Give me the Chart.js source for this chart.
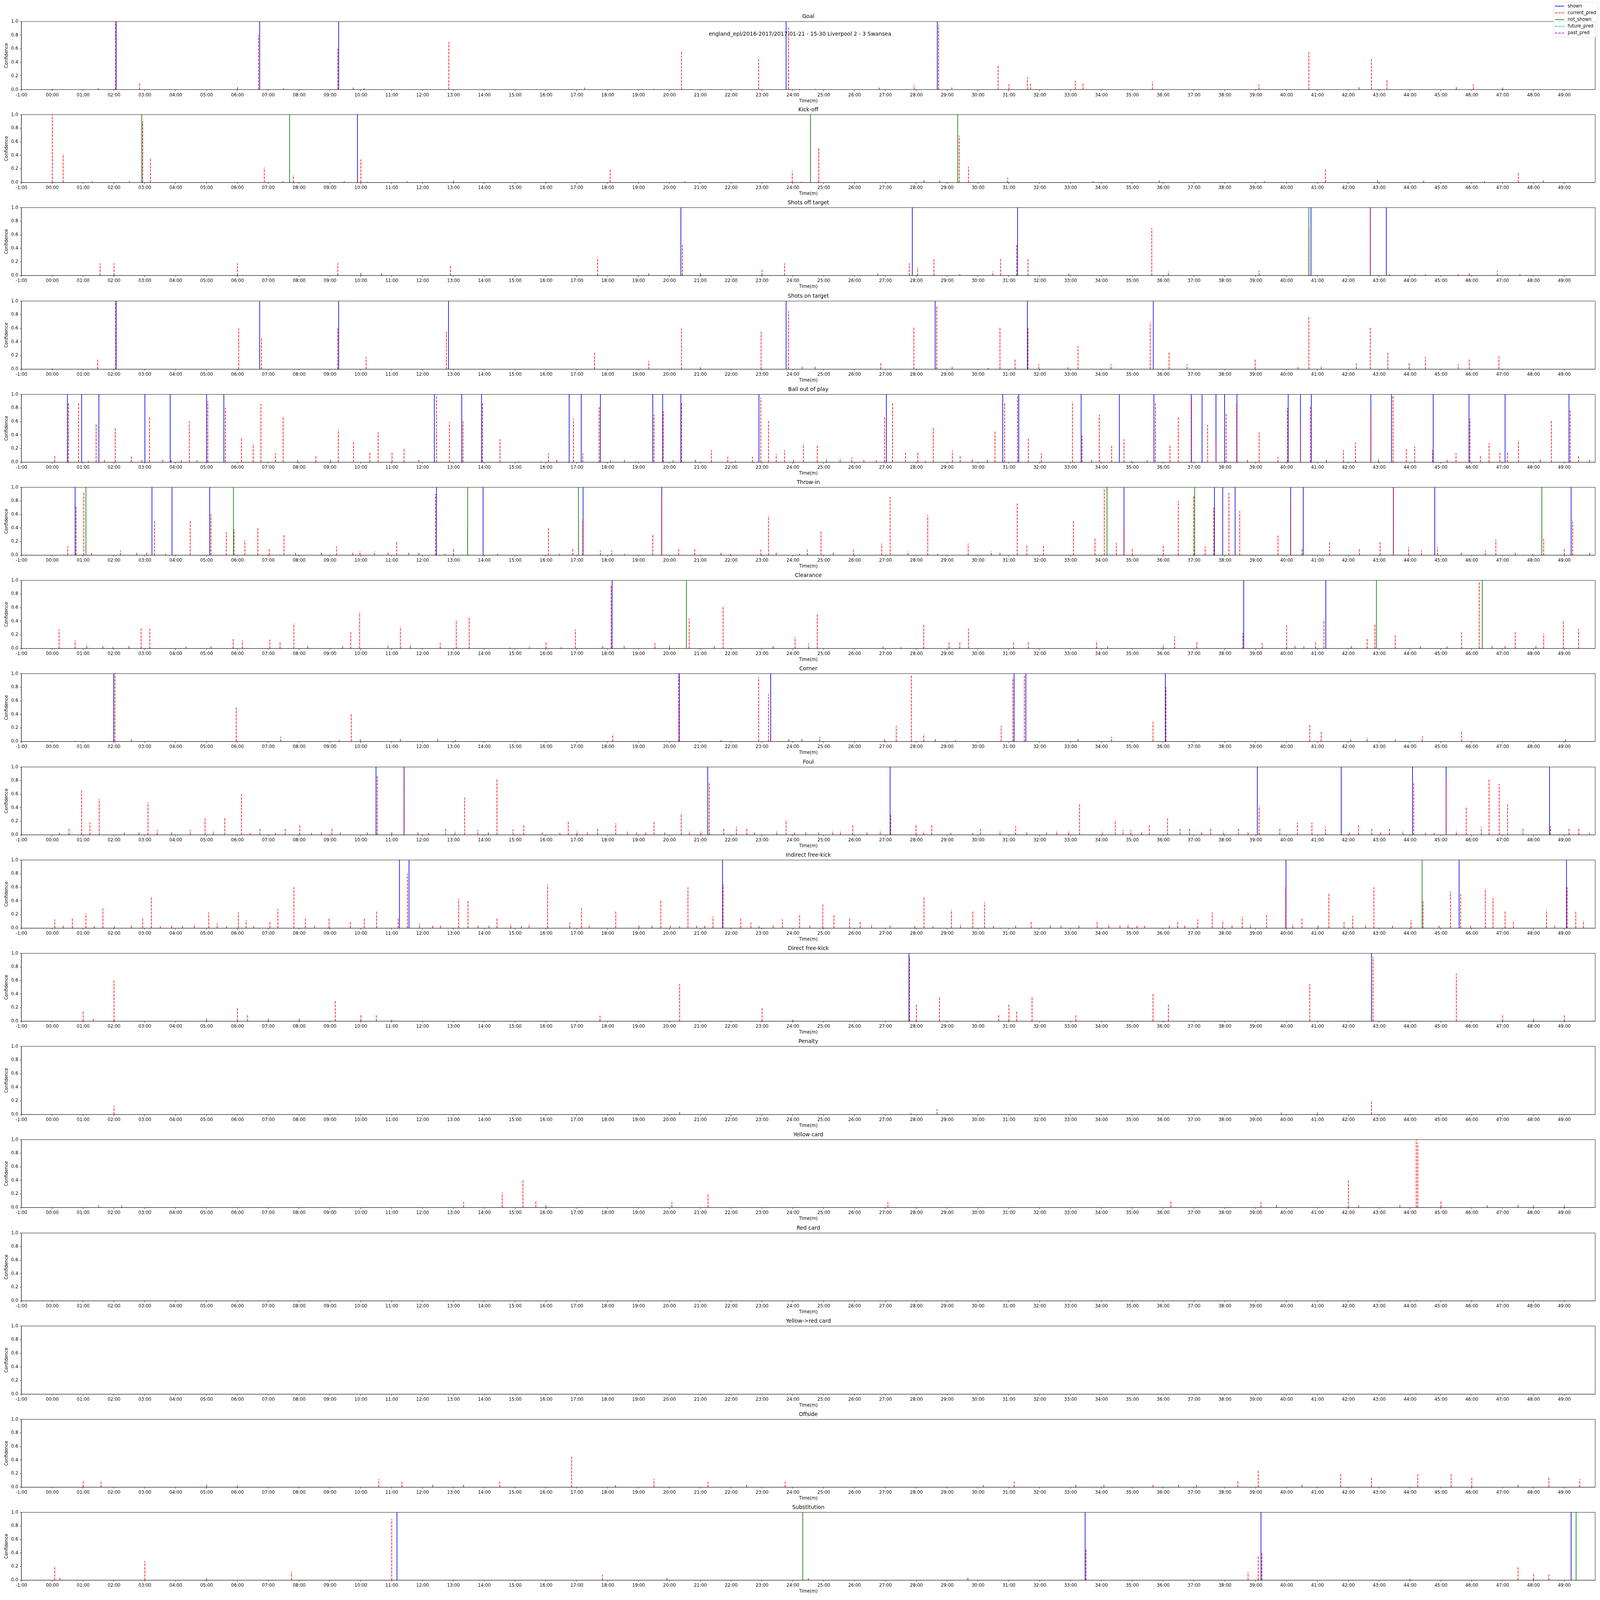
<!DOCTYPE html>
<html><head><meta charset="utf-8">
<script src="https://cdn.jsdelivr.net/npm/chart.js@4.4.0/dist/chart.umd.min.js"></script>
<style>html,body{margin:0;padding:0;background:#fff;overflow:hidden}#wrap{position:relative;background:#fff}canvas{position:absolute;left:0}</style>
</head><body><div id="wrap"></div>
<script>
// ---------------- DATA (time in minutes, confidence 0..1) ----------------
const SUPTITLE = 'england_epl/2016-2017/2017-01-21 - 15-30 Liverpool 2 - 3 Swansea';
const PANEL_TITLES = ['Goal','Kick-off','Shots off target','Shots on target','Ball out of play','Throw-in','Clearance','Corner','Foul','Indirect free-kick','Direct free-kick','Penalty','Yellow card','Red card','Yellow->red card','Offside','Substitution'];
const LEGEND_LABELS = ['shown','current_pred','not_shown','future_pred','past_pred'];
const Y_TICKS = [0,0.2,0.4,0.6,0.8,1.0];
const X_TICK_FIRST = -1, X_TICK_LAST = 49;

// Goal
const SHOWN_GOAL = [2.07,6.72,9.28,23.78,28.68];
const PRED_GOAL = [[0.0,0.01],[1.49,0.02],[2.05,1.0],[2.83,0.09],[6.0,0.05],[6.68,0.8],[7.5,0.02],[9.25,0.6],[9.75,0.03],[10.1,0.02],[12.85,0.7],[17.25,0.03],[19.5,0.01],[20.39,0.56],[22.89,0.45],[23.86,0.91],[24.22,0.01],[24.73,0.01],[26.8,0.03],[27.67,0.01],[27.93,0.07],[28.72,0.95],[29.15,0.03],[30.65,0.35],[31.0,0.08],[31.6,0.18],[31.7,0.1],[33.15,0.13],[33.4,0.1],[35.65,0.12],[39.1,0.08],[40.72,0.55],[42.35,0.05],[42.75,0.45],[43.25,0.15],[45.5,0.05],[46.05,0.08],[47.0,0.03]];
// Kick-off
const SHOWN_KICK = [9.89];
const NOTSHOWN_KICK = [2.9,7.69,24.57,29.34];
const PRED_KICK = [[0.0,1.0],[0.35,0.42],[1.3,0.02],[2.5,0.02],[2.93,0.9],[3.18,0.35],[6.87,0.22],[7.47,0.02],[7.81,0.11],[9.46,0.02],[10.0,0.34],[10.2,0.01],[11.5,0.02],[13.0,0.03],[16.0,0.01],[18.08,0.2],[20.5,0.02],[23.98,0.17],[24.27,0.01],[24.84,0.51],[28.25,0.04],[28.76,0.03],[29.39,0.69],[29.69,0.23],[30.96,0.07],[33.73,0.02],[35.87,0.03],[39.28,0.02],[41.26,0.19],[42.95,0.03],[44.44,0.03],[46.41,0.02],[47.51,0.14],[48.32,0.03]];
// Shots off target
const SHOWN_SOFF = [20.37,27.87,31.28,40.79,42.71,43.23];
const NOTSHOWN_SOFF = [40.72];
const PRED_SOFF = [[1.55,0.18],[2.0,0.18],[6.0,0.18],[9.25,0.18],[10.0,0.04],[10.67,0.04],[12.9,0.15],[17.67,0.27],[19.33,0.03],[20.42,0.45],[21.0,0.03],[23.0,0.08],[23.73,0.18],[26.75,0.03],[27.77,0.18],[28.04,0.12],[28.57,0.24],[29.41,0.02],[30.48,0.06],[30.73,0.26],[31.25,0.45],[31.62,0.24],[32.94,0.03],[35.63,0.7],[36.17,0.06],[39.11,0.07],[40.72,0.68],[42.71,1.0],[43.33,0.02],[44.15,0.02],[44.5,0.02],[45.56,0.02],[45.92,0.03],[46.83,0.07],[47.56,0.02]];
// Shots on target
const SHOWN_SON = [2.07,6.72,9.28,12.84,23.78,28.61,31.6,35.68];
const PRED_SON = [[0.0,0.01],[1.47,0.15],[2.05,1.0],[6.04,0.6],[6.78,0.45],[9.25,0.6],[10.17,0.18],[12.77,0.55],[17.57,0.25],[19.33,0.12],[20.39,0.6],[21.0,0.03],[22.97,0.55],[23.86,0.85],[24.3,0.04],[24.72,0.04],[26.85,0.09],[27.92,0.61],[28.66,0.92],[29.16,0.04],[30.33,0.02],[30.71,0.61],[31.2,0.14],[31.62,0.6],[31.97,0.07],[32.91,0.03],[33.24,0.34],[34.31,0.07],[35.58,0.69],[36.19,0.26],[36.77,0.07],[38.98,0.14],[40.37,0.03],[40.72,0.78],[41.12,0.04],[42.26,0.09],[42.71,0.61],[43.28,0.24],[43.97,0.09],[44.5,0.18],[45.56,0.07],[45.92,0.16],[46.88,0.19]];
// Ball out of play
const SHOWN_BOP = [0.49,0.95,1.51,3.0,3.82,5.0,5.56,12.38,13.27,13.91,16.75,17.14,17.76,19.46,19.78,20.37,22.9,27.03,30.8,31.32,33.34,34.58,35.7,36.91,37.26,37.71,37.99,38.39,40.05,40.45,40.8,42.73,43.4,44.75,45.91,47.08,49.15];
const PRED_BOP = [[0.08,0.09],[0.52,0.87],[0.85,0.87],[1.17,0.02],[1.42,0.56],[1.69,0.04],[2.04,0.5],[2.56,0.08],[2.9,0.03],[3.15,0.68],[3.58,0.04],[3.85,0.03],[4.18,0.03],[4.44,0.6],[4.69,0.03],[5.04,0.9],[5.61,0.8],[6.13,0.37],[6.51,0.27],[6.76,0.86],[7.23,0.13],[7.48,0.66],[7.95,0.03],[8.54,0.09],[9.02,0.04],[9.27,0.48],[9.76,0.3],[10.29,0.14],[10.56,0.44],[11.01,0.16],[11.4,0.21],[11.88,0.05],[12.45,0.98],[12.87,0.59],[13.31,0.6],[13.94,0.87],[14.51,0.34],[15.11,0.01],[15.83,0.01],[16.08,0.13],[16.35,0.04],[16.89,0.64],[17.19,0.13],[17.72,0.81],[18.09,0.03],[18.54,0.04],[18.9,0.01],[19.5,0.7],[19.8,0.75],[20.12,0.03],[20.39,0.87],[20.84,0.04],[21.36,0.18],[21.89,0.08],[22.14,0.02],[22.69,0.08],[22.96,0.95],[23.21,0.61],[23.46,0.12],[23.73,0.18],[24.02,0.04],[24.34,0.27],[24.79,0.25],[25.09,0.06],[25.53,0.06],[25.91,0.07],[26.3,0.04],[26.7,0.03],[26.97,0.66],[27.23,0.87],[27.65,0.14],[28.05,0.14],[28.3,0.02],[28.55,0.51],[29.17,0.17],[29.42,0.09],[29.81,0.04],[30.3,0.04],[30.55,0.45],[30.86,0.87],[31.28,0.98],[31.63,0.35],[32.05,0.13],[33.06,0.89],[33.37,0.39],[33.68,0.04],[33.93,0.7],[34.33,0.24],[34.73,0.34],[34.98,0.02],[35.48,0.03],[35.75,0.87],[36.22,0.26],[36.49,0.66],[36.92,0.95],[37.44,0.55],[37.71,0.3],[38.04,0.72],[38.38,0.86],[38.73,0.04],[39.11,0.44],[39.72,0.08],[40.03,0.8],[40.45,0.55],[40.77,0.82],[41.29,0.04],[41.84,0.18],[42.23,0.29],[42.73,0.76],[42.98,0.06],[43.45,0.97],[43.88,0.19],[44.15,0.23],[44.73,0.18],[45.2,0.04],[45.49,0.13],[45.94,0.64],[46.28,0.09],[46.56,0.28],[46.91,0.16],[47.16,0.14],[47.51,0.32],[48.22,0.05],[48.58,0.61],[49.19,0.78],[49.46,0.09],[49.81,0.05]];
// Throw-in
const SHOWN_THROW = [0.74,3.23,3.88,5.1,12.45,13.96,17.2,19.75,34.73,37.66,37.93,38.33,40.13,40.54,43.46,44.8,49.22];
const NOTSHOWN_THROW = [1.09,5.87,13.46,17.05,34.18,37.02,48.27];
const PRED_THROW = [[0.5,0.13],[0.77,0.72],[1.02,0.93],[1.27,0.04],[2.21,0.07],[2.74,0.04],[3.06,0.04],[3.31,0.5],[3.67,0.02],[4.47,0.5],[5.14,0.6],[5.64,0.34],[5.89,0.38],[6.24,0.22],[6.66,0.4],[7.03,0.09],[7.51,0.3],[7.88,0.05],[8.72,0.04],[9.21,0.13],[9.74,0.04],[9.97,0.06],[10.44,0.06],[10.88,0.04],[11.16,0.21],[11.55,0.04],[11.88,0.04],[12.42,0.9],[12.72,0.02],[13.0,0.09],[13.46,0.4],[14.43,0.02],[16.08,0.4],[16.43,0.02],[16.87,0.09],[17.19,0.53],[17.76,0.07],[18.13,0.07],[18.54,0.02],[19.46,0.3],[19.75,0.85],[20.3,0.09],[20.82,0.09],[21.67,0.04],[21.97,0.02],[22.96,0.08],[23.21,0.58],[23.46,0.04],[24.22,0.02],[24.47,0.08],[24.91,0.35],[25.31,0.04],[25.96,0.08],[26.88,0.17],[27.15,0.86],[27.73,0.06],[28.37,0.59],[28.69,0.02],[29.68,0.17],[30.43,0.06],[30.71,0.04],[31.27,0.77],[31.58,0.15],[32.12,0.14],[33.09,0.5],[33.79,0.25],[34.09,0.98],[34.48,0.18],[34.73,0.4],[35.0,0.09],[36.0,0.14],[36.49,0.8],[36.99,0.87],[37.36,0.13],[37.64,0.7],[38.13,0.92],[38.48,0.65],[39.72,0.29],[40.13,0.78],[40.5,0.09],[41.39,0.19],[42.36,0.09],[43.03,0.19],[43.46,0.98],[43.95,0.12],[44.37,0.07],[44.89,0.12],[45.66,0.04],[46.44,0.07],[46.78,0.23],[47.41,0.04],[47.97,0.02],[48.33,0.24],[49.0,0.09],[49.27,0.49],[49.82,0.04]];
// Clearance
const SHOWN_CLEAR = [18.14,38.61,41.27];
const NOTSHOWN_CLEAR = [20.55,42.91,46.34];
const PRED_CLEAR = [[0.22,0.28],[0.74,0.12],[1.12,0.06],[1.64,0.04],[1.96,0.02],[2.48,0.04],[2.88,0.31],[3.16,0.29],[4.33,0.03],[5.14,0.03],[5.86,0.14],[6.16,0.12],[7.05,0.13],[7.38,0.1],[7.83,0.37],[8.28,0.04],[9.41,0.04],[9.67,0.24],[9.96,0.53],[10.88,0.06],[11.28,0.32],[11.6,0.06],[12.57,0.08],[13.09,0.42],[13.51,0.45],[14.83,0.015],[15.46,0.02],[16.0,0.09],[16.49,0.02],[16.95,0.28],[17.84,0.04],[18.11,0.92],[18.53,0.04],[19.53,0.08],[20.0,0.06],[20.64,0.44],[21.45,0.04],[21.74,0.61],[23.36,0.04],[24.07,0.17],[24.51,0.07],[24.79,0.5],[26.92,0.03],[27.5,0.02],[28.24,0.36],[29.06,0.09],[29.41,0.09],[29.69,0.29],[31.15,0.09],[31.63,0.09],[33.84,0.11],[34.2,0.03],[36.0,0.06],[36.37,0.18],[37.09,0.09],[38.58,0.23],[39.21,0.08],[40.0,0.34],[40.27,0.04],[40.56,0.03],[40.94,0.11],[41.21,0.42],[42.09,0.04],[42.61,0.14],[42.86,0.35],[43.52,0.19],[44.33,0.05],[45.2,0.03],[45.67,0.24],[46.24,0.97],[46.66,0.04],[47.08,0.04],[47.41,0.24],[48.08,0.04],[48.33,0.22],[48.97,0.4],[49.46,0.29]];
// Corner
const SHOWN_CORNER = [1.99,20.32,23.28,31.17,31.55,36.07];
const PRED_CORNER = [[0.74,0.01],[2.03,1.0],[2.56,0.04],[5.96,0.5],[7.4,0.07],[9.3,0.02],[9.69,0.4],[9.98,0.04],[11.28,0.04],[12.49,0.04],[13.07,0.02],[18.16,0.11],[20.3,1.0],[21.67,0.02],[22.89,0.95],[23.21,0.7],[23.87,0.04],[24.29,0.04],[24.87,0.07],[26.97,0.04],[27.35,0.23],[27.84,0.97],[28.24,0.11],[28.61,0.04],[29.27,0.02],[30.75,0.23],[31.13,0.94],[31.5,0.97],[33.24,0.04],[34.33,0.07],[35.67,0.29],[36.09,0.8],[40.75,0.25],[41.12,0.14],[42.08,0.03],[42.61,0.06],[43.52,0.03],[44.4,0.08],[45.67,0.16],[49.04,0.03]];
// Foul
const SHOWN_FOUL = [10.49,11.4,21.24,27.15,39.05,41.77,44.08,45.17,48.52];
const PRED_FOUL = [[0.23,0.03],[0.54,0.09],[0.95,0.65],[1.22,0.18],[1.52,0.53],[2.33,0.04],[2.81,0.04],[3.1,0.48],[3.4,0.07],[3.87,0.04],[4.47,0.07],[4.95,0.24],[5.22,0.06],[5.59,0.25],[6.13,0.6],[6.41,0.03],[6.73,0.09],[7.23,0.03],[7.55,0.09],[8.02,0.14],[8.4,0.03],[8.72,0.04],[9.06,0.11],[9.33,0.04],[10.21,0.04],[10.53,0.87],[11.0,0.04],[11.4,1.0],[11.85,0.04],[12.2,0.03],[12.75,0.09],[13.05,0.06],[13.36,0.55],[13.79,0.07],[14.13,0.04],[14.41,0.82],[14.93,0.08],[15.28,0.14],[15.88,0.04],[16.45,0.03],[16.72,0.21],[17.0,0.06],[17.34,0.04],[17.67,0.09],[18.26,0.17],[18.64,0.06],[18.93,0.04],[19.23,0.04],[19.5,0.19],[19.85,0.04],[20.38,0.32],[20.65,0.06],[21.02,0.06],[21.29,0.76],[21.76,0.09],[22.17,0.12],[22.51,0.09],[22.76,0.04],[23.48,0.06],[23.78,0.22],[24.05,0.04],[24.42,0.04],[24.84,0.04],[25.29,0.06],[25.54,0.06],[25.94,0.14],[26.4,0.04],[26.83,0.06],[27.17,0.3],[27.99,0.14],[28.24,0.06],[28.5,0.14],[29.12,0.03],[29.83,0.03],[30.08,0.1],[30.71,0.06],[31.22,0.13],[31.58,0.04],[32.22,0.04],[32.55,0.06],[32.94,0.06],[33.29,0.45],[34.03,0.06],[34.45,0.22],[34.7,0.07],[34.95,0.07],[35.3,0.04],[35.55,0.14],[36.14,0.24],[36.55,0.09],[36.85,0.09],[37.25,0.04],[37.54,0.11],[37.96,0.06],[38.44,0.09],[38.75,0.04],[39.11,0.43],[39.78,0.11],[40.35,0.18],[40.82,0.18],[41.26,0.12],[42.03,0.04],[42.33,0.14],[42.76,0.09],[43.05,0.04],[43.33,0.09],[43.77,0.06],[44.12,0.76],[44.5,0.03],[44.78,0.03],[45.17,0.85],[45.5,0.06],[45.82,0.42],[46.31,0.12],[46.56,0.82],[46.89,0.75],[47.16,0.45],[47.66,0.09],[48.55,0.13],[49.15,0.09],[49.47,0.11],[49.81,0.03]];
// Indirect free-kick
const SHOWN_IFK = [11.25,11.56,21.72,39.98,45.59,49.07];
const NOTSHOWN_IFK = [44.39];
const PRED_IFK = [[0.08,0.13],[0.35,0.04],[0.65,0.15],[1.09,0.22],[1.36,0.03],[1.64,0.29],[2.01,0.03],[2.56,0.04],[2.93,0.14],[3.21,0.45],[3.5,0.03],[3.87,0.04],[4.22,0.04],[4.6,0.06],[5.07,0.23],[5.34,0.07],[5.65,0.03],[6.03,0.23],[6.28,0.12],[6.53,0.03],[7.05,0.09],[7.31,0.28],[7.83,0.6],[8.2,0.14],[8.5,0.04],[8.97,0.14],[9.66,0.09],[10.11,0.14],[10.51,0.25],[11.21,0.14],[11.51,0.8],[11.9,0.07],[12.33,0.04],[12.58,0.04],[13.17,0.43],[13.47,0.4],[13.8,0.04],[14.15,0.04],[14.41,0.15],[14.86,0.06],[15.2,0.03],[15.45,0.06],[16.05,0.64],[16.77,0.08],[17.15,0.31],[17.4,0.04],[18.26,0.25],[19.01,0.04],[19.43,0.04],[19.72,0.42],[20.03,0.04],[20.33,0.03],[20.6,0.6],[20.88,0.04],[21.14,0.04],[21.41,0.17],[21.74,0.64],[22.31,0.16],[22.64,0.08],[22.9,0.03],[23.36,0.04],[23.66,0.13],[24.22,0.21],[24.55,0.04],[24.97,0.35],[25.33,0.19],[25.84,0.14],[26.18,0.09],[26.55,0.06],[27.15,0.04],[27.95,0.03],[28.25,0.45],[28.54,0.03],[29.14,0.27],[29.43,0.06],[29.83,0.25],[30.21,0.38],[30.5,0.04],[31.22,0.04],[31.72,0.09],[32.34,0.04],[32.69,0.04],[33.27,0.04],[33.86,0.09],[34.24,0.06],[34.6,0.04],[34.86,0.06],[35.15,0.04],[35.4,0.04],[36.2,0.04],[36.47,0.11],[36.7,0.04],[37.12,0.13],[37.59,0.23],[37.93,0.11],[38.23,0.04],[38.56,0.17],[38.83,0.06],[39.35,0.21],[39.97,0.6],[40.2,0.06],[40.5,0.14],[41.02,0.04],[41.37,0.52],[41.86,0.09],[42.14,0.18],[42.56,0.06],[42.83,0.6],[43.43,0.04],[44.03,0.12],[44.42,0.39],[44.94,0.04],[45.31,0.54],[45.64,0.5],[45.96,0.04],[46.44,0.58],[46.69,0.44],[47.08,0.26],[47.35,0.11],[48.42,0.27],[48.69,0.04],[49.09,0.6],[49.37,0.24],[49.62,0.11]];
// Direct free-kick
const SHOWN_DFK = [27.76,42.75];
const PRED_DFK = [[1.0,0.15],[1.33,0.05],[2.0,0.6],[5.0,0.05],[6.0,0.2],[6.33,0.1],[7.0,0.05],[8.0,0.05],[9.17,0.3],[10.0,0.1],[10.5,0.1],[11.0,0.02],[17.75,0.08],[20.33,0.55],[23.0,0.2],[24.0,0.02],[27.78,0.95],[28.0,0.25],[28.75,0.35],[30.67,0.1],[31.0,0.25],[31.25,0.15],[31.75,0.35],[33.17,0.1],[35.67,0.4],[36.17,0.25],[40.75,0.55],[42.8,0.95],[45.5,0.7],[47.0,0.1],[48.0,0.05],[49.0,0.1]];
// Penalty
const PRED_PEN = [[2.0,0.12],[9.25,0.01],[20.33,0.04],[27.83,0.02],[28.67,0.08],[39.83,0.03],[41.0,0.03],[42.75,0.2]];
// Yellow card
const PRED_YELLOW = [[1.5,0.03],[2.25,0.03],[13.33,0.08],[14.58,0.22],[15.25,0.4],[15.67,0.1],[16.0,0.05],[20.08,0.08],[21.25,0.2],[27.08,0.08],[36.25,0.1],[39.17,0.08],[39.67,0.05],[42.0,0.4],[42.33,0.05],[43.67,0.05],[44.2,1.0],[44.25,0.95],[45.0,0.1],[46.5,0.03],[47.5,0.05],[48.0,0.03],[49.0,0.03]];
// Red card / Yellow->red card
const PRED_RED = [[44.2,0.01]];
const PRED_Y2R = [[44.2,0.01]];
// Offside
const PRED_OFF = [[1.0,0.08],[1.58,0.08],[5.0,0.05],[6.0,0.03],[10.58,0.12],[11.33,0.08],[12.33,0.05],[13.33,0.05],[14.5,0.08],[16.83,0.45],[18.25,0.03],[19.5,0.12],[21.25,0.08],[22.5,0.05],[23.75,0.08],[30.17,0.03],[31.17,0.08],[33.17,0.05],[34.08,0.05],[35.67,0.05],[36.5,0.05],[37.08,0.05],[38.42,0.1],[39.08,0.25],[40.5,0.05],[41.75,0.2],[42.75,0.15],[44.25,0.2],[45.33,0.2],[46.0,0.15],[47.5,0.05],[48.5,0.15],[49.5,0.12]];
// Substitution
const SHOWN_SUB = [11.17,33.47,39.17,49.22];
const NOTSHOWN_SUB = [24.32,49.38];
const PRED_SUB = [[0.08,0.2],[0.25,0.05],[3.0,0.28],[5.0,0.03],[7.75,0.12],[11.0,0.9],[17.83,0.08],[19.92,0.05],[24.5,0.03],[29.67,0.05],[33.5,0.45],[38.75,0.12],[39.08,0.35],[39.2,0.4],[44.0,0.02],[47.5,0.2],[48.0,0.1],[48.5,0.08]];
// future_pred / past_pred (none visible apart from the legend)
const FUTURE_NONE = [];
const PAST_NONE = [];

const PANELS = [
  {shown:SHOWN_GOAL, pred:PRED_GOAL},
  {shown:SHOWN_KICK, pred:PRED_KICK, notShown:NOTSHOWN_KICK},
  {shown:SHOWN_SOFF, pred:PRED_SOFF, notShown:NOTSHOWN_SOFF},
  {shown:SHOWN_SON, pred:PRED_SON},
  {shown:SHOWN_BOP, pred:PRED_BOP},
  {shown:SHOWN_THROW, pred:PRED_THROW, notShown:NOTSHOWN_THROW},
  {shown:SHOWN_CLEAR, pred:PRED_CLEAR, notShown:NOTSHOWN_CLEAR},
  {shown:SHOWN_CORNER, pred:PRED_CORNER},
  {shown:SHOWN_FOUL, pred:PRED_FOUL},
  {shown:SHOWN_IFK, pred:PRED_IFK, notShown:NOTSHOWN_IFK},
  {shown:SHOWN_DFK, pred:PRED_DFK},
  {pred:PRED_PEN},
  {pred:PRED_YELLOW},
  {pred:PRED_RED},
  {pred:PRED_Y2R},
  {pred:PRED_OFF},
  {shown:SHOWN_SUB, pred:PRED_SUB, notShown:NOTSHOWN_SUB}
];

// ---------------- RENDERING ----------------
const FONT = 'DejaVu Sans';
Chart.defaults.font.family = FONT;
Chart.defaults.color = '#000';
const COLORS = {shown:'#0000ff', pred:'#ff0000', notShown:'#008000', future:'#00bfbf', past:'#bf00bf'};
const DASH = [7.7, 3.3];
const AX_LEFT = 67, AX_RIGHT = 4985, AX_H = 212, X_AXIS_H = 49, TOP0 = 67, PITCH = 291.2;

// layout is expressed in reference pixels; shrink it to the viewport
const VW = document.documentElement.clientWidth || window.innerWidth;
const VH = document.documentElement.clientHeight || window.innerHeight;
const K = Math.min(VW, VH) / 5000;
const DPR = window.devicePixelRatio || 1;
const wrapEl = document.getElementById('wrap');
wrapEl.style.width = (5000 * K) + 'px';
wrapEl.style.height = (5000 * K) + 'px';

function segs(list, full){
  const out = [];
  (list || []).forEach(it => {
    const t = full ? it : it[0];
    const v = full ? 1 : it[1];
    out.push({x:t, y:0}, {x:t, y:v}, {x:t, y:null});
  });
  return out;
}
function fmtMin(v){
  if (v < 0) return '-' + Math.abs(v) + ':00';
  return String(v).padStart(2,'0') + ':00';
}

const framePlugin = {
  id:'frame',
  afterDatasetsDraw(chart, args, opts){
    const {ctx, chartArea:a} = chart;
    ctx.save();
    ctx.strokeStyle = '#000'; ctx.lineWidth = 1.1;
    ctx.strokeRect(a.left, a.top, a.right - a.left, a.bottom - a.top);
    ctx.fillStyle = '#000';
    ctx.font = '16.7px "' + FONT + '"';
    ctx.textAlign = 'center'; ctx.textBaseline = 'middle';
    ctx.fillText(opts.text, (a.left + a.right) / 2, a.top - 15);
    ctx.restore();
  }
};
const headerPlugin = {
  id:'header',
  afterDraw(chart, args, opts){
    if (!opts.enabled) return;
    const ctx = chart.ctx;
    ctx.save();
    ctx.fillStyle = '#000';
    ctx.font = '16.7px "' + FONT + '"';
    ctx.textAlign = 'center'; ctx.textBaseline = 'middle';
    ctx.fillText(SUPTITLE, 2500, 107);
    const bx = 4855, by = 7, bw = 138, bh = 109, r = 4;
    ctx.beginPath();
    ctx.moveTo(bx + r, by); ctx.lineTo(bx + bw - r, by); ctx.quadraticCurveTo(bx + bw, by, bx + bw, by + r);
    ctx.lineTo(bx + bw, by + bh - r); ctx.quadraticCurveTo(bx + bw, by + bh, bx + bw - r, by + bh);
    ctx.lineTo(bx + r, by + bh); ctx.quadraticCurveTo(bx, by + bh, bx, by + bh - r);
    ctx.lineTo(bx, by + r); ctx.quadraticCurveTo(bx, by, bx + r, by);
    ctx.closePath();
    ctx.fillStyle = 'rgba(255,255,255,0.8)'; ctx.fill();
    ctx.strokeStyle = 'rgba(204,204,204,0.8)'; ctx.lineWidth = 1; ctx.stroke();
    const keys = ['shown','pred','notShown','future','past'];
    const rows = [19, 40, 61, 82, 103];
    keys.forEach((k, i) => {
      ctx.beginPath();
      ctx.strokeStyle = COLORS[k]; ctx.lineWidth = 2;
      ctx.setLineDash(k === 'shown' || k === 'notShown' ? [] : DASH);
      ctx.moveTo(4859, rows[i]); ctx.lineTo(4888, rows[i]); ctx.stroke();
      ctx.setLineDash([]);
      ctx.fillStyle = '#000';
      ctx.font = '13.9px "' + FONT + '"';
      ctx.textAlign = 'left'; ctx.textBaseline = 'middle';
      ctx.fillText(LEGEND_LABELS[i], 4899, rows[i]);
    });
    ctx.restore();
  }
};

PANELS.forEach((p, i) => {
  const axTop = Math.round(TOP0 + PITCH * i);
  const padTop = i === 0 ? TOP0 : 30;
  const cTop = axTop - padTop;
  const cH = padTop + AX_H + X_AXIS_H;
  const cv = document.createElement('canvas');
  cv.width = 5000; cv.height = cH;
  cv.style.width = '5000px'; cv.style.height = cH + 'px';
  wrapEl.appendChild(cv);
  const mk = (key, data, dashed, order) => ({
    label:key, data, borderColor:COLORS[key], backgroundColor:COLORS[key],
    borderWidth:2, borderDash: dashed ? DASH : [], pointRadius:0, pointHoverRadius:0,
    fill:false, tension:0, spanGaps:false, order
  });
  const ds = [
    mk('shown', segs(p.shown, true), false, 5),
    mk('pred', segs(p.pred, false), true, 4),
    mk('notShown', segs(p.notShown, true), false, 3),
    mk('future', segs(p.future || FUTURE_NONE, false), true, 2),
    mk('past', segs(p.past || PAST_NONE, false), true, 1)
  ];
  new Chart(cv, {
    type:'line',
    data:{datasets:ds},
    options:{
      responsive:false, animation:false, devicePixelRatio:K * DPR, events:[],
      layout:{padding:{top:padTop, right:5000 - AX_RIGHT, bottom:0, left:0}},
      plugins:{legend:{display:false}, tooltip:{enabled:false}, title:{display:false},
        frame:{text:PANEL_TITLES[i]}, header:{enabled:i === 0}},
      scales:{
        x:{type:'linear', min:-1, max:50,
          afterBuildTicks(scale){
            const t = [];
            for (let v = X_TICK_FIRST; v <= X_TICK_LAST; v++) t.push({value:v});
            scale.ticks = t;
          },
          afterFit(scale){ scale.height = X_AXIS_H; },
          ticks:{autoSkip:false, maxRotation:0, minRotation:0, padding:4, color:'#000',
            font:{size:13.9, family:FONT}, callback:(v) => fmtMin(v)},
          grid:{drawOnChartArea:false, drawTicks:true, tickLength:5, tickColor:'#000', tickWidth:1},
          border:{display:true, color:'#000', width:1},
          title:{display:true, text:'Time(m)', color:'#000', font:{size:13.9, family:FONT}, padding:{top:0, bottom:5}}
        },
        y:{type:'linear', min:0, max:1,
          afterBuildTicks(scale){ scale.ticks = Y_TICKS.map(v => ({value:v})); },
          afterFit(scale){ scale.width = AX_LEFT; },
          ticks:{padding:5, color:'#000', font:{size:13.9, family:FONT}, callback:(v) => Number(v).toFixed(1)},
          grid:{drawOnChartArea:false, drawTicks:true, tickLength:5, tickColor:'#000', tickWidth:1},
          border:{display:true, color:'#000', width:1},
          title:{display:true, text:'Confidence', color:'#000', font:{size:13.9, family:FONT}, padding:{top:12, bottom:0}}
        }
      }
    },
    plugins:[framePlugin, headerPlugin]
  });
  cv.style.width = (5000 * K) + 'px';
  cv.style.height = (cH * K) + 'px';
  cv.style.top = (cTop * K) + 'px';
});
</script>
</body></html>
